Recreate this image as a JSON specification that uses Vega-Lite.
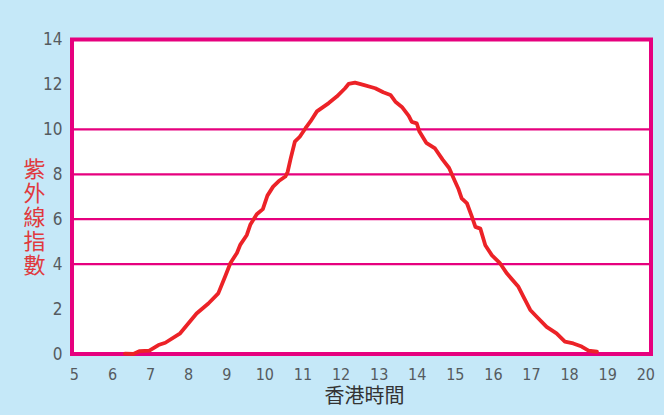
{
  "$schema": "https://vega.github.io/schema/vega-lite/v6.json",
  "width": 579,
  "height": 314.5,
  "autosize": {"type": "none"},
  "padding": {"left": 72, "top": 39.5, "right": 13, "bottom": 61},
  "background": "#C5E8F8",
  "config": {
    "view": {"fill": "#FFFFFF", "stroke": "#E6007E", "strokeWidth": 4}
  },
  "encoding": {
    "y": {
      "field": "uv",
      "type": "quantitative",
      "scale": {"domain": [0, 14], "nice": false, "zero": true},
      "axis": {
        "values": [0, 2, 4, 6, 8, 10, 12, 14],
        "domain": false,
        "ticks": false,
        "grid": false,
        "labelFlush": false,
        "labelOverlap": false,
        "labelFont": "Liberation Sans Narrow, DejaVu Sans Condensed, sans-serif",
        "labelFontSize": 17,
        "labelColor": "#555B60",
        "labelPadding": 10,
        "title": ["紫", "外", "線", "指", "數"],
        "titleAngle": 0,
        "titleAlign": "center",
        "titleBaseline": "top",
        "titleX": -38,
        "titleY": 120,
        "titleFont": "Noto Sans CJK TC",
        "titleFontSize": 22,
        "titleFontWeight": "normal",
        "titleColor": "#E03A3E",
        "titleLineHeight": 24
      }
    }
  },
  "layer": [
    {
      "data": {"values": [{"uv": 4}, {"uv": 6}, {"uv": 8}, {"uv": 10}]},
      "mark": {"type": "rule", "color": "#E6007E", "strokeWidth": 2.2}
    },
    {
      "data": {
        "values": [
          {"hour": 6.34, "uv": 0.02},
          {"hour": 6.56, "uv": 0.0},
          {"hour": 6.73, "uv": 0.13},
          {"hour": 6.98, "uv": 0.15},
          {"hour": 7.22, "uv": 0.4},
          {"hour": 7.4, "uv": 0.5},
          {"hour": 7.79, "uv": 0.92},
          {"hour": 8.22, "uv": 1.8},
          {"hour": 8.53, "uv": 2.25},
          {"hour": 8.79, "uv": 2.7},
          {"hour": 8.97, "uv": 3.45},
          {"hour": 9.11, "uv": 4.05},
          {"hour": 9.28, "uv": 4.5},
          {"hour": 9.37, "uv": 4.87},
          {"hour": 9.54, "uv": 5.3},
          {"hour": 9.63, "uv": 5.75},
          {"hour": 9.8, "uv": 6.22},
          {"hour": 9.96, "uv": 6.45},
          {"hour": 10.08, "uv": 7.05},
          {"hour": 10.23, "uv": 7.45},
          {"hour": 10.38, "uv": 7.7},
          {"hour": 10.55, "uv": 7.9},
          {"hour": 10.61, "uv": 8.1},
          {"hour": 10.69, "uv": 8.7},
          {"hour": 10.8, "uv": 9.45},
          {"hour": 10.93, "uv": 9.67},
          {"hour": 11.08, "uv": 10.05},
          {"hour": 11.21, "uv": 10.35},
          {"hour": 11.38, "uv": 10.8},
          {"hour": 11.69, "uv": 11.17},
          {"hour": 11.9, "uv": 11.46},
          {"hour": 12.12, "uv": 11.83},
          {"hour": 12.21, "uv": 12.02},
          {"hour": 12.38, "uv": 12.08},
          {"hour": 12.6, "uv": 11.98},
          {"hour": 12.91, "uv": 11.83},
          {"hour": 13.12, "uv": 11.65},
          {"hour": 13.31, "uv": 11.53},
          {"hour": 13.44, "uv": 11.23},
          {"hour": 13.61, "uv": 11.0},
          {"hour": 13.79, "uv": 10.6},
          {"hour": 13.87, "uv": 10.33},
          {"hour": 14.0, "uv": 10.27},
          {"hour": 14.07, "uv": 9.9},
          {"hour": 14.25, "uv": 9.4},
          {"hour": 14.48, "uv": 9.15},
          {"hour": 14.68, "uv": 8.65},
          {"hour": 14.85, "uv": 8.28},
          {"hour": 15.0, "uv": 7.7},
          {"hour": 15.09, "uv": 7.37},
          {"hour": 15.18, "uv": 6.93},
          {"hour": 15.32, "uv": 6.7},
          {"hour": 15.45, "uv": 6.1},
          {"hour": 15.54, "uv": 5.66},
          {"hour": 15.67, "uv": 5.58},
          {"hour": 15.8, "uv": 4.84},
          {"hour": 15.97, "uv": 4.4},
          {"hour": 16.19, "uv": 4.03},
          {"hour": 16.37, "uv": 3.58},
          {"hour": 16.67, "uv": 2.99},
          {"hour": 16.8, "uv": 2.55},
          {"hour": 16.98, "uv": 1.96},
          {"hour": 17.15, "uv": 1.66},
          {"hour": 17.41, "uv": 1.21},
          {"hour": 17.67, "uv": 0.92},
          {"hour": 17.89, "uv": 0.55},
          {"hour": 18.11, "uv": 0.47},
          {"hour": 18.33, "uv": 0.33},
          {"hour": 18.51, "uv": 0.15},
          {"hour": 18.73, "uv": 0.1}
        ]
      },
      "mark": {"type": "line", "color": "#EC2227", "strokeWidth": 3.8, "strokeCap": "round", "strokeJoin": "round"},
      "encoding": {
        "x": {
          "field": "hour",
          "type": "quantitative",
          "scale": {"domain": [4.95, 20.15], "nice": false, "zero": false},
          "axis": {
            "values": [5, 6, 7, 8, 9, 10, 11, 12, 13, 14, 15, 16, 17, 18, 19, 20],
            "domain": false,
            "ticks": false,
            "grid": false,
            "labelFlush": false,
            "labelOverlap": false,
            "labelFont": "Liberation Sans Narrow, DejaVu Sans Condensed, sans-serif",
            "labelFontSize": 16,
            "labelColor": "#555B60",
            "labelPadding": 12,
            "title": "香港時間",
            "titleX": 292,
            "titleY": 42,
            "titleAlign": "center",
            "titleBaseline": "middle",
            "titleFont": "Noto Sans CJK TC",
            "titleFontSize": 20,
            "titleFontWeight": "normal",
            "titleColor": "#333333"
          }
        }
      }
    }
  ]
}
